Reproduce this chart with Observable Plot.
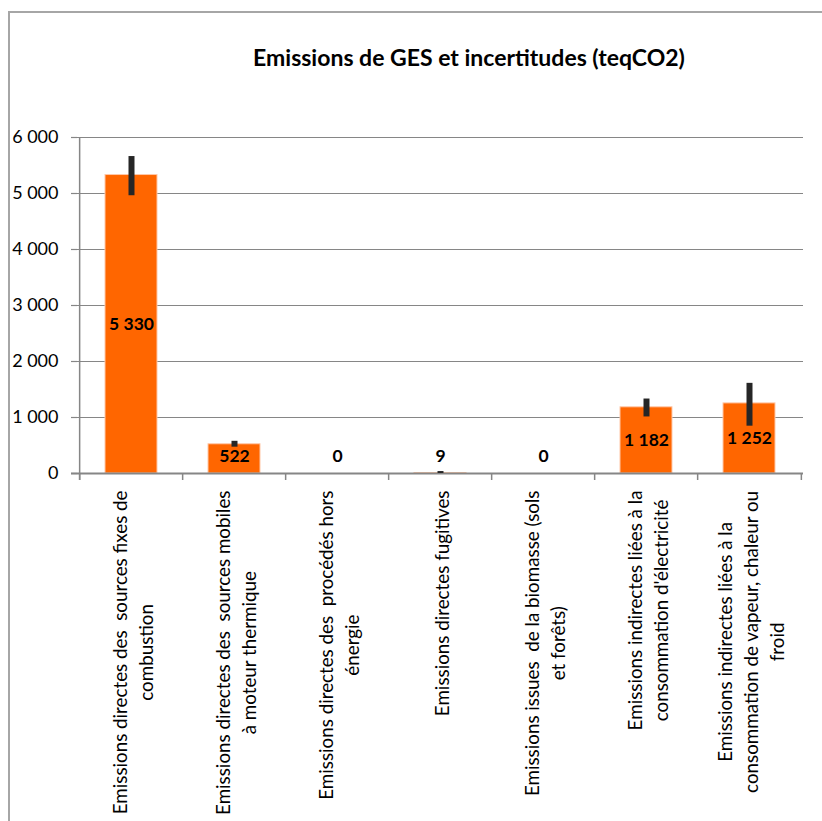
<!DOCTYPE html>
<html><head><meta charset="utf-8">
<script src="https://cdn.jsdelivr.net/npm/d3@7"></script>
<script src="https://cdn.jsdelivr.net/npm/@observablehq/plot@0.6"></script>
<style>
html,body{margin:0;padding:0;background:#fff;overflow:hidden;width:822px;height:821px;position:relative;}
#frame{position:absolute;left:8px;top:11px;width:840px;height:840px;border-top:2px solid #a6a6a6;border-left:2px solid #a6a6a6;}
#title{position:absolute;left:16px;top:0;width:906px;height:90px;text-align:center;font-family:Lato,sans-serif;font-weight:bold;font-size:23px;line-height:24px;padding-top:45px;box-sizing:border-box;color:#000;}
#chart{position:absolute;left:0;top:90px;}
</style></head><body>
<div id="frame"></div>
<div id="title">Emissions de GES et incertitudes (teqCO2)</div>
<div id="chart"></div>
<script>
const categories = [
  "Emissions directes des  sources fixes de\ncombustion",
  "Emissions directes des  sources mobiles\nà moteur thermique",
  "Emissions directes des  procédés hors\nénergie",
  "Emissions directes fugitives",
  "Emissions issues  de la biomasse (sols\net forêts)",
  "Emissions indirectes liées à la\nconsommation d'électricité",
  "Emissions indirectes liées à la\nconsommation de vapeur, chaleur ou\nfroid"
];
const values = [5330, 522, 0, 9, 0, 1182, 1252];
const valueLabels = ["5 330", "522", "0", "9", "0", "1 182", "1 252"];
const errLow = [4960, 470, 0, 0, 0, 1010, 845];
const errHigh = [5660, 575, 0, 35, 0, 1330, 1610];
const yTicks = [0, 1000, 2000, 3000, 4000, 5000, 6000];

const data = categories.map((c, i) => ({cat: c, value: values[i], label: valueLabels[i], lo: errLow[i], hi: errHigh[i]}));

const W = 822, H = 731, mL = 77, mR = 19, mT = 47, mB = 348;
const step = (W - mL - mR) / categories.length;
const grey = "#868686";
const xFs = 18.8;
const ctx = document.createElement("canvas").getContext("2d");
ctx.font = `${xFs}px Lato`;
const fmt = d => d3.format(",")(d).replace(/,/g, " ");

const labelMarks = categories.map(c => {
  const w = Math.max(...c.split("\n").map(s => ctx.measureText(s).width));
  return Plot.text([c], {x: d => d, text: d => d, frameAnchor: "bottom", rotate: -90,
    textAnchor: "middle", lineAnchor: "middle", lineHeight: 1.4, dy: 17 + w / 2,
    fontSize: xFs, fill: "#000"});
});

const chart = Plot.plot({
  width: W, height: H,
  marginLeft: mL, marginRight: mR, marginTop: mT, marginBottom: mB,
  style: {fontFamily: "Lato, sans-serif", background: "transparent", overflow: "visible"},
  x: {domain: categories, paddingInner: 0.5, paddingOuter: 0.25, axis: null},
  y: {domain: [0, 6000], axis: null},
  marks: [
    Plot.ruleY(yTicks.filter(d => d > 0), {y: d => d, stroke: grey, strokeWidth: 1.2, strokeOpacity: 1, insetLeft: -6}),
    Plot.barY(data, {x: "cat", y: "value", fill: "#ff6600", stroke: "#ffc8a8", strokeWidth: 1}),
    Plot.ruleY([0], {stroke: grey, strokeWidth: 2, insetLeft: -6}),
    Plot.ruleX([categories[0]], {x: d => d, dx: -step / 2, stroke: grey, strokeWidth: 1.5, insetBottom: -7}),
    Plot.ruleX(categories, {x: d => d, dx: -step / 2, y1: 0, y2: 0, stroke: grey, strokeWidth: 1.5, insetBottom: -7}),
    Plot.ruleX([categories[categories.length - 1]], {x: d => d, dx: step / 2, y1: 0, y2: 0, stroke: grey, strokeWidth: 1.5, insetBottom: -7}),
    Plot.ruleX(data.filter(d => d.hi > d.lo), {x: "cat", y1: "lo", y2: "hi", stroke: "#262626", strokeWidth: 6}),
    Plot.axisY({ticks: yTicks, tickSize: 6, tickPadding: 13, tickFormat: fmt, fontSize: 18, stroke: grey, strokeWidth: 1.2, fill: "#000"}),
    Plot.text(data, {x: "cat", y: d => Math.max(d.value / 2, 300), text: "label", fontSize: 17.5, fontWeight: "bold", fill: "#000"}),
    ...labelMarks
  ]
});
document.getElementById("chart").appendChild(chart);
</script>
</body></html>
